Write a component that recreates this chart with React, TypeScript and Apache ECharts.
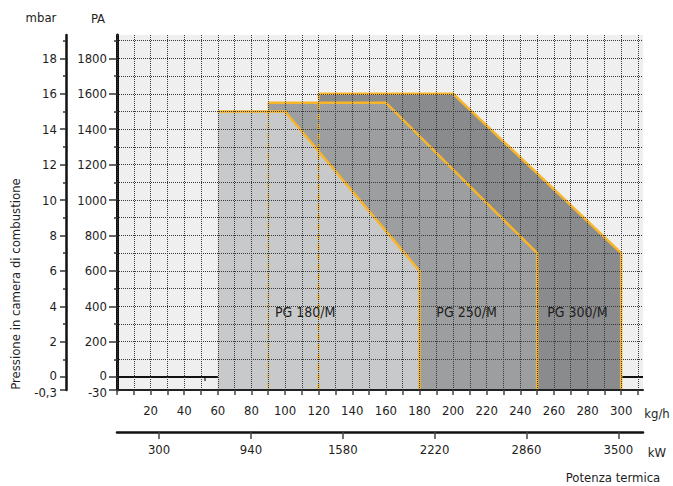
import { useEffect, useRef } from "react";
import * as echarts from "echarts";

// ---- data (kg/h, Pa) ----
const models = ["PG 180/M", "PG 250/M", "PG 300/M"];
const minFlow = [60, 90, 120];
const plateauEnd = [100, 160, 200];
const maxFlow = [180, 250, 300];
const maxPressure = [1500, 1550, 1600];
const endPressure = [600, 700, 700];
const labelFlow = [112, 208, 274];
const labelPressure = [370, 370, 370];

// ---- axis ticks ----
const flowLabels = [20, 40, 60, 80, 100, 120, 140, 160, 180, 200, 220, 240, 260, 280, 300];
const flowTicks = [0, 10, 20, 30, 40, 50, 60, 70, 80, 90, 100, 110, 120, 130, 140, 150, 160, 170, 180, 190, 200, 210, 220, 230, 240, 250, 260, 270, 280, 290, 300, 310];
const paMajor = [200, 400, 600, 800, 1000, 1200, 1400, 1600, 1800];
const paMinor = [100, 300, 500, 700, 900, 1100, 1300, 1500, 1700, 1900];
const mbarMajor = [2, 4, 6, 8, 10, 12, 14, 16, 18];
const mbarMinor = [1, 3, 5, 7, 9, 11, 13, 15, 17, 19];
const zeroTick = [0];
const kwLabels = [300, 940, 1580, 2220, 2860, 3500];
const kwMinor = [620, 1260, 1900, 2540, 3180];
const bottomPaLabel = "-30";
const bottomMbarLabel = "-0,3";

// axis ranges (the bottom of the pressure axis is a broken-axis position labelled -30)
const Y_MIN = -73;
const Y_MAX = 1932;
const X_MAX = 313;
const KW_MIN = 7;
const KW_MAX = 3672;

const FONT = '"DejaVu Sans Condensed", "Liberation Sans Narrow", Roboto, sans-serif';
const TXT = "#1e1e1e";
const YELLOW = "#f7b52a";
const fills = ["#c8c9cb", "#9d9e9f", "#8a8b8d"];
const dashOpacity = [1, 0.6, 1];
const drawOrder = [2, 1, 0];

export default function App() {
  const ref = useRef<HTMLDivElement>(null);
  useEffect(() => {
    if (!ref.current) return;
    const chart = echarts.init(ref.current, null, { renderer: "svg" });
    const labelStyle = { color: TXT, fontSize: 13, fontFamily: FONT };
    const txt = (text: string, x: number, y: number, extra: any = {}) => ({
      type: "text",
      x,
      y,
      ...extra,
      style: { text, fill: TXT, fontSize: 13, fontFamily: FONT, align: "center", verticalAlign: "middle" },
    });
    const yAx = (min: number, max: number, offset: number, extra: any) => ({
      type: "value",
      min,
      max,
      position: "left",
      offset,
      z: 4,
      axisLine: { show: false },
      axisLabel: { show: false },
      axisTick: { show: false },
      splitLine: { show: false },
      ...extra,
    });
    const tick = (values: number[], length: number) => ({
      show: true,
      length,
      customValues: values,
      lineStyle: { color: "#333", width: 1.5 },
    });
    const gridLine = { show: true, lineStyle: { type: "dotted", color: "#3a3a3a", width: 1 } };
    const dashed = [1, 2].map((m) => ({
      type: "line",
      xAxisIndex: 0,
      yAxisIndex: 0,
      z: 3,
      symbol: "none",
      silent: true,
      data: [
        [minFlow[m], maxPressure[m]],
        [minFlow[m], Y_MIN],
      ],
      lineStyle: { color: YELLOW, width: 2, type: [6, 4], opacity: dashOpacity[m] },
    }));
    const option: any = {
      animation: false,
      backgroundColor: "#ffffff",
      grid: {
        left: 117,
        right: 30,
        top: 35,
        bottom: 96,
        containLabel: false,
        outerBoundsMode: "none",
        show: true,
        backgroundColor: "#efefef",
        borderWidth: 0,
      },
      xAxis: [
        {
          type: "value",
          min: 0,
          max: X_MAX,
          interval: 10,
          position: "bottom",
          z: 5,
          axisLine: { show: true, onZero: false, lineStyle: { color: "#222", width: 2 } },
          axisTick: { ...tick(flowTicks, 5), lineStyle: { color: "#444", width: 1.5 } },
          axisLabel: { ...labelStyle, customValues: flowLabels, margin: 14, formatter: (v: number) => String(v) },
          splitLine: gridLine,
        },
        {
          type: "value",
          min: KW_MIN,
          max: KW_MAX,
          position: "bottom",
          offset: 42,
          axisLine: { show: true, onZero: false, lineStyle: { color: "#111", width: 2.5 } },
          axisTick: { ...tick(kwLabels, 7), lineStyle: { color: "#444", width: 1.5 } },
          axisLabel: { ...labelStyle, customValues: kwLabels, margin: 11, formatter: (v: number) => String(v) },
          splitLine: { show: false },
        },
        {
          type: "value",
          min: KW_MIN,
          max: KW_MAX,
          position: "bottom",
          offset: 42,
          axisLine: { show: false },
          axisTick: { ...tick(kwMinor, 4), lineStyle: { color: "#444", width: 1.5 } },
          axisLabel: { show: false },
          splitLine: { show: false },
        },
      ],
      yAxis: [
        // Pa: major ticks, labels, grid lines
        yAx(Y_MIN, Y_MAX, 0, {
          axisLine: { show: true, onZero: false, lineStyle: { color: "#111", width: 3 } },
          axisTick: tick(paMajor, 8),
          axisLabel: { ...labelStyle, margin: 10, customValues: paMajor, formatter: (v: number) => String(v) },
          splitLine: gridLine,
        }),
        // Pa: minor ticks + grid lines
        yAx(Y_MIN, Y_MAX, 0, { axisTick: tick(paMinor, 3), splitLine: gridLine }),
        // Pa: zero
        yAx(Y_MIN, Y_MAX, 0, {
          axisTick: tick(zeroTick, 8),
          axisLabel: { ...labelStyle, margin: 10, verticalAlign: "bottom", lineHeight: 4, customValues: zeroTick, formatter: (v: number) => String(v) },
        }),
        // Pa: broken bottom label
        yAx(Y_MIN, Y_MAX, 0, {
          axisTick: tick([Y_MIN], 8),
          axisLabel: { ...labelStyle, margin: 10, verticalAlign: "top", lineHeight: 4, customValues: [Y_MIN], formatter: () => bottomPaLabel },
        }),
        // mbar: major
        yAx(Y_MIN / 100, Y_MAX / 100, 51, {
          axisLine: { show: true, onZero: false, lineStyle: { color: "#111", width: 2.5 } },
          axisTick: tick(mbarMajor, 6),
          axisLabel: { ...labelStyle, margin: 9, customValues: mbarMajor, formatter: (v: number) => String(v) },
        }),
        // mbar: minor
        yAx(Y_MIN / 100, Y_MAX / 100, 51, { axisTick: tick(mbarMinor, 3) }),
        // mbar: zero
        yAx(Y_MIN / 100, Y_MAX / 100, 51, {
          axisTick: tick(zeroTick, 6),
          axisLabel: { ...labelStyle, margin: 9, verticalAlign: "bottom", lineHeight: 4, customValues: zeroTick, formatter: (v: number) => String(v) },
        }),
        // mbar: broken bottom label
        yAx(Y_MIN / 100, Y_MAX / 100, 51, {
          axisTick: tick([Y_MIN / 100], 6),
          axisLabel: { ...labelStyle, margin: 9, verticalAlign: "top", lineHeight: 4, customValues: [Y_MIN / 100], formatter: () => bottomMbarLabel },
        }),
      ],
      graphic: [
        txt("mbar", 41, 17),
        txt("PA", 98, 18),
        txt("kg/h", 657, 413),
        txt("kW", 657, 452),
        txt("Potenza termica", 613, 477),
        txt("Pressione in camera di combustione", 15, 284, { rotation: Math.PI / 2 }),
      ],
      series: [
        {
          type: "line",
          xAxisIndex: 0,
          yAxisIndex: 0,
          z: 1,
          symbol: "none",
          silent: true,
          data: [[0, 0], [X_MAX, 0]],
          lineStyle: { color: "#111", width: 2 },
        },
        {
          type: "custom",
          xAxisIndex: 0,
          yAxisIndex: 0,
          z: 2,
          data: drawOrder.map((m) => [minFlow[m], maxPressure[m], m]),
          encode: { x: 0, y: 1 },
          renderItem: (_params: any, api: any) => {
            const m = api.value(2);
            const pts = [
              [minFlow[m], Y_MIN],
              [minFlow[m], maxPressure[m]],
              [plateauEnd[m], maxPressure[m]],
              [maxFlow[m], endPressure[m]],
              [maxFlow[m], Y_MIN],
            ].map((p) => api.coord(p));
            return {
              type: "group",
              children: [
                { type: "polygon", shape: { points: pts }, style: { fill: fills[m] } },
                { type: "polyline", shape: { points: pts.slice(1) }, style: { stroke: YELLOW, lineWidth: 2.5, fill: "none" } },
              ],
            };
          },
        },
        ...dashed,
        {
          type: "custom",
          xAxisIndex: 0,
          yAxisIndex: 0,
          z: 4,
          data: models.map((_n, m) => [labelFlow[m], labelPressure[m], m]),
          encode: { x: 0, y: 1 },
          renderItem: (_params: any, api: any) => {
            const m = api.value(2);
            const c = api.coord([labelFlow[m], labelPressure[m]]);
            return {
              type: "text",
              x: c[0],
              y: c[1],
              style: { text: models[m], fill: TXT, fontSize: 14, fontFamily: FONT, align: "center", verticalAlign: "middle" },
            };
          },
        },
      ],
    };
    chart.setOption(option);
    return () => chart.dispose();
  }, []);
  return <div ref={ref} style={{ position: "fixed", left: 0, top: 0, width: 673, height: 486 }} />;
}
